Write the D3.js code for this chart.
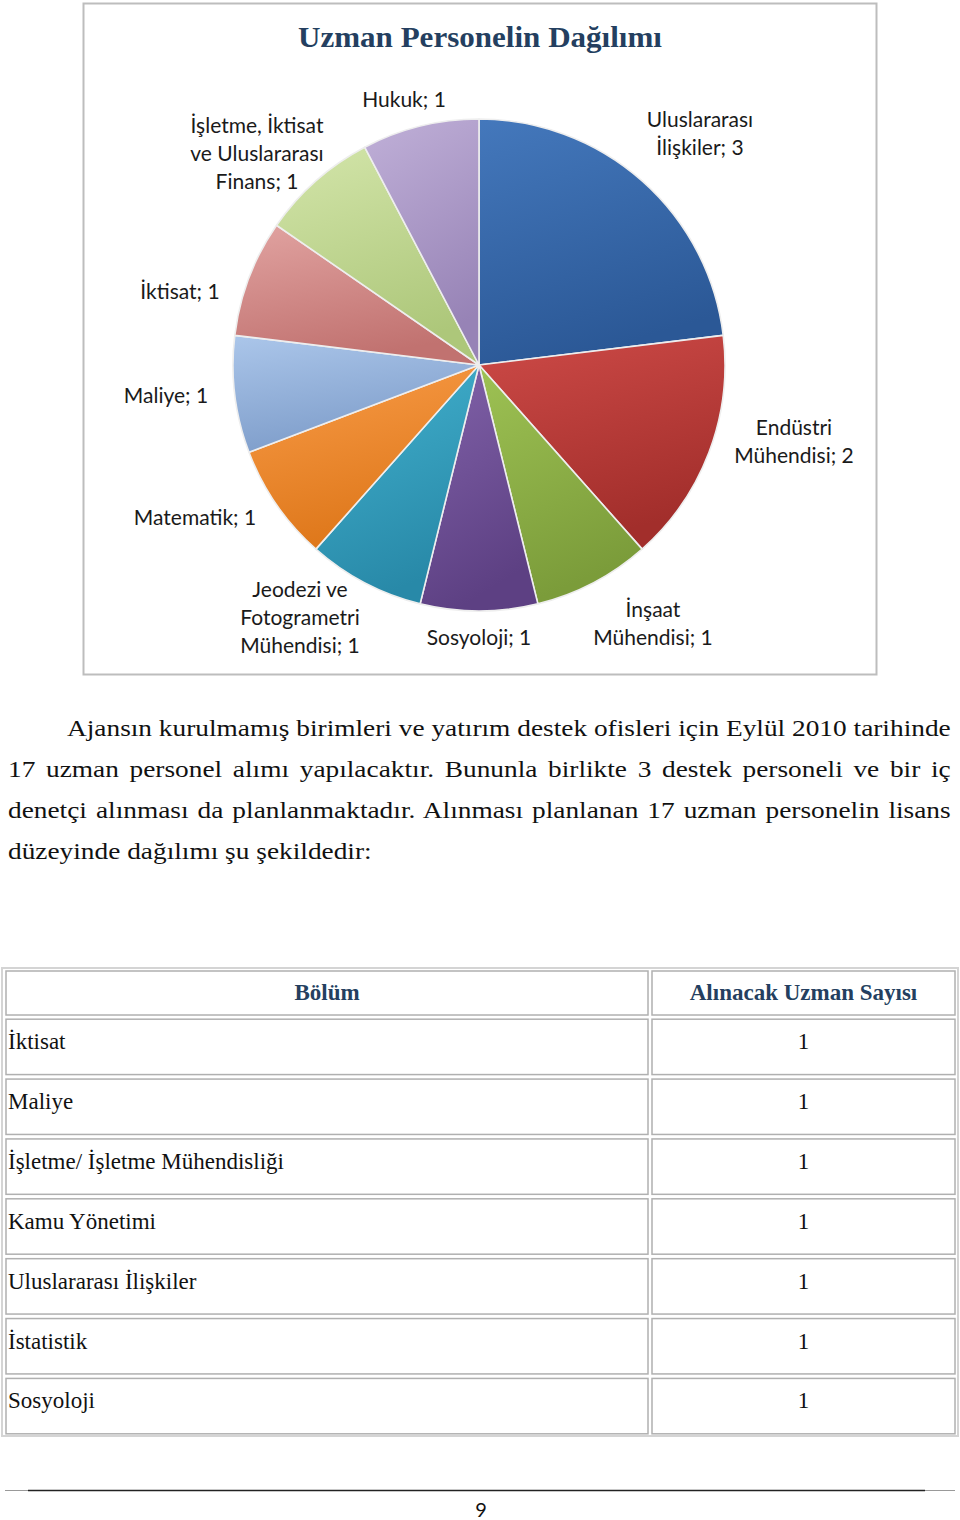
<!DOCTYPE html>
<html>
<head>
<meta charset="utf-8">
<script src="https://cdn.jsdelivr.net/npm/d3@7"></script>
<style>
html,body{margin:0;padding:0;background:#fff;}
svg{display:block;}
</style>
</head>
<body>
<svg id="page" width="960" height="1520"></svg>
<script>
// ---------- DATA ----------
const chartTitle = "Uzman Personelin Dağılımı";
const categories = [
  "Uluslararası İlişkiler",
  "Endüstri Mühendisi",
  "İnşaat Mühendisi",
  "Sosyoloji",
  "Jeodezi ve Fotogrametri Mühendisi",
  "Matematik",
  "Maliye",
  "İktisat",
  "İşletme, İktisat ve Uluslararası Finans",
  "Hukuk"
];
const values = [3, 2, 1, 1, 1, 1, 1, 1, 1, 1];

const paragraphLines = [
  "Ajansın kurulmamış birimleri ve yatırım destek ofisleri için Eylül 2010 tarihinde",
  "17 uzman personel alımı yapılacaktır. Bununla birlikte 3 destek personeli ve bir iç",
  "denetçi alınması da planlanmaktadır. Alınması planlanan 17 uzman personelin lisans",
  "düzeyinde dağılımı şu şekildedir:"
];

const tableHeaders = ["Bölüm", "Alınacak Uzman Sayısı"];
const tableDepartments = ["İktisat", "Maliye", "İşletme/ İşletme Mühendisliği", "Kamu Yönetimi", "Uluslararası İlişkiler", "İstatistik", "Sosyoloji"];
const tableCounts = [1, 1, 1, 1, 1, 1, 1];
const pageNumber = "9";

// ---------- STYLE / LAYOUT ----------
const sliceColors = [
  ["#4478bc", "#2b5896"],
  ["#cd4a47", "#a22e2b"],
  ["#9ec254", "#7b9c3a"],
  ["#8263aa", "#5d4083"],
  ["#43b2cf", "#2889a8"],
  ["#f99c48", "#de771a"],
  ["#abc6ea", "#7e9dca"],
  ["#e1a3a1", "#c17270"],
  ["#d3e5aa", "#adc77a"],
  ["#c0b0d8", "#9783b6"]
];
// label block centre offsets from the pie centre (layout)
const labelOffsets = [
  [221, -231], [315, 77], [174, 259], [0, 273], [-179, 253],
  [-284, 153], [-313, 31], [-299, -73], [-222, -211], [-75, -265]
];
const serif = "'Liberation Serif', 'Times New Roman', serif";
const sans = "Lato, 'Open Sans', sans-serif";
const titleColor = "#243f60";

const svg = d3.select("#page");

// ---------- CHART BOX ----------
svg.append("rect").attr("x", 83.5).attr("y", 3.5).attr("width", 793).attr("height", 671)
  .attr("fill", "#fff").attr("stroke", "#bdbdbd").attr("stroke-width", 2);

svg.append("text").attr("x", 480).attr("y", 47).attr("text-anchor", "middle")
  .attr("font-family", serif).attr("font-weight", "bold").attr("font-size", 30)
  .attr("fill", titleColor).attr("textLength", 364).attr("lengthAdjust", "spacingAndGlyphs")
  .text(chartTitle);

// ---------- PIE ----------
const cx = 479, cy = 365, R = 246;
const defs = svg.append("defs");
sliceColors.forEach((c, i) => {
  const g = defs.append("linearGradient").attr("id", "g" + i)
    .attr("x1", 0).attr("y1", 0).attr("x2", 0.3).attr("y2", 1);
  g.append("stop").attr("offset", "0%").attr("stop-color", c[0]);
  g.append("stop").attr("offset", "100%").attr("stop-color", c[1]);
});

const pie = d3.pie().sort(null).value(d => d)(values);
const arc = d3.arc().innerRadius(0).outerRadius(R);
const pieG = svg.append("g").attr("transform", `translate(${cx},${cy})`);
pieG.selectAll("path").data(pie).join("path")
  .attr("d", arc)
  .attr("fill", (d, i) => `url(#g${i})`)
  .attr("stroke", "#eeeeee").attr("stroke-width", 1.6).attr("stroke-linejoin", "round");

// labels
const labelG = svg.append("g").attr("font-family", sans).attr("font-size", 21).attr("fill", "#1a1a1a");
const maxW = 142;
pie.forEach((d, i) => {
  const txt = categories[i] + "; " + values[i];
  const t = labelG.append("text").attr("text-anchor", "middle");
  const words = txt.split(" ");
  const lines = [];
  let cur = "";
  const probe = labelG.append("text").attr("visibility", "hidden");
  words.forEach(w => {
    const test = cur ? cur + " " + w : w;
    probe.text(test);
    if (cur && probe.node().getComputedTextLength() > maxW) { lines.push(cur); cur = w; }
    else cur = test;
  });
  lines.push(cur);
  probe.remove();
  const lh = 28;
  const x = cx + labelOffsets[i][0];
  const y0 = cy + labelOffsets[i][1] - (lines.length - 1) * lh / 2 + 7;
  lines.forEach((l, k) => {
    t.append("tspan").attr("x", x).attr("y", y0 + k * lh).text(l);
  });
});

// ---------- PARAGRAPH ----------
const paraG = svg.append("g").attr("font-family", serif).attr("font-size", 24).attr("fill", "#111");
const lineStarts = [67, 8, 8, 8];
const lineRight = 951;
let hScale = 1;
paragraphLines.forEach((l, i) => {
  const g = paraG.append("g");
  const t = g.append("text").attr("x", 0).attr("y", 0).text(l);
  const nat = t.node().getComputedTextLength();
  if (i === 0) hScale = (lineRight - lineStarts[0]) / nat;
  g.attr("transform", `translate(${lineStarts[i]},${736 + i * 41}) scale(${hScale},1)`);
  if (i > 0 && i < paragraphLines.length - 1) {
    const spaces = (l.match(/ /g) || []).length;
    const extra = ((lineRight - lineStarts[i]) / hScale - nat) / spaces;
    t.attr("word-spacing", extra);
  }
});

// ---------- TABLE ----------
const tX0 = 6, tXm = 648, tXm2 = 652, tX1 = 955;
svg.append("rect").attr("x", 2).attr("y", 968).attr("width", 956).attr("height", 468)
  .attr("fill", "none").attr("stroke", "#d4d4d4").attr("stroke-width", 2);

const rowY = d3.scaleBand().domain(tableDepartments).range([1018, 1435]).paddingInner(0.075).paddingOuter(0.02);
const cellStroke = "#b0b0b0";
function cell(x, y, w, h) {
  svg.append("rect").attr("x", x).attr("y", y).attr("width", w).attr("height", h)
    .attr("fill", "#fff").attr("stroke", cellStroke).attr("stroke-width", 1.5);
}
const hy = 971, hh = 44;
cell(tX0, hy, tXm - tX0, hh);
cell(tXm2, hy, tX1 - tXm2, hh);
svg.append("text").attr("x", (tX0 + tXm) / 2).attr("y", hy + 29).attr("text-anchor", "middle")
  .attr("font-family", serif).attr("font-weight", "bold").attr("font-size", 23).attr("fill", titleColor)
  .text(tableHeaders[0]);
svg.append("text").attr("x", (tXm2 + tX1) / 2).attr("y", hy + 29).attr("text-anchor", "middle")
  .attr("font-family", serif).attr("font-weight", "bold").attr("font-size", 23).attr("fill", titleColor)
  .text(tableHeaders[1]);

tableDepartments.forEach((dep, i) => {
  const y = rowY(dep), h = rowY.bandwidth();
  cell(tX0, y, tXm - tX0, h);
  cell(tXm2, y, tX1 - tXm2, h);
  svg.append("text").attr("x", 8).attr("y", y + 30).attr("font-family", serif).attr("font-size", 23)
    .attr("fill", "#111").text(dep);
  svg.append("text").attr("x", (tXm2 + tX1) / 2).attr("y", y + 30).attr("text-anchor", "middle")
    .attr("font-family", serif).attr("font-size", 23).attr("fill", "#111").text(tableCounts[i]);
});

// ---------- FOOTER ----------
svg.append("line").attr("x1", 5).attr("x2", 955).attr("y1", 1490.5).attr("y2", 1490.5)
  .attr("stroke", "#999").attr("stroke-width", 1);
svg.append("line").attr("x1", 28).attr("x2", 925).attr("y1", 1490.5).attr("y2", 1490.5)
  .attr("stroke", "#222").attr("stroke-width", 1.6);
svg.append("text").attr("x", 481).attr("y", 1517).attr("text-anchor", "middle")
  .attr("font-family", sans).attr("font-size", 20).attr("fill", "#111").text(pageNumber);
</script>
</body>
</html>
